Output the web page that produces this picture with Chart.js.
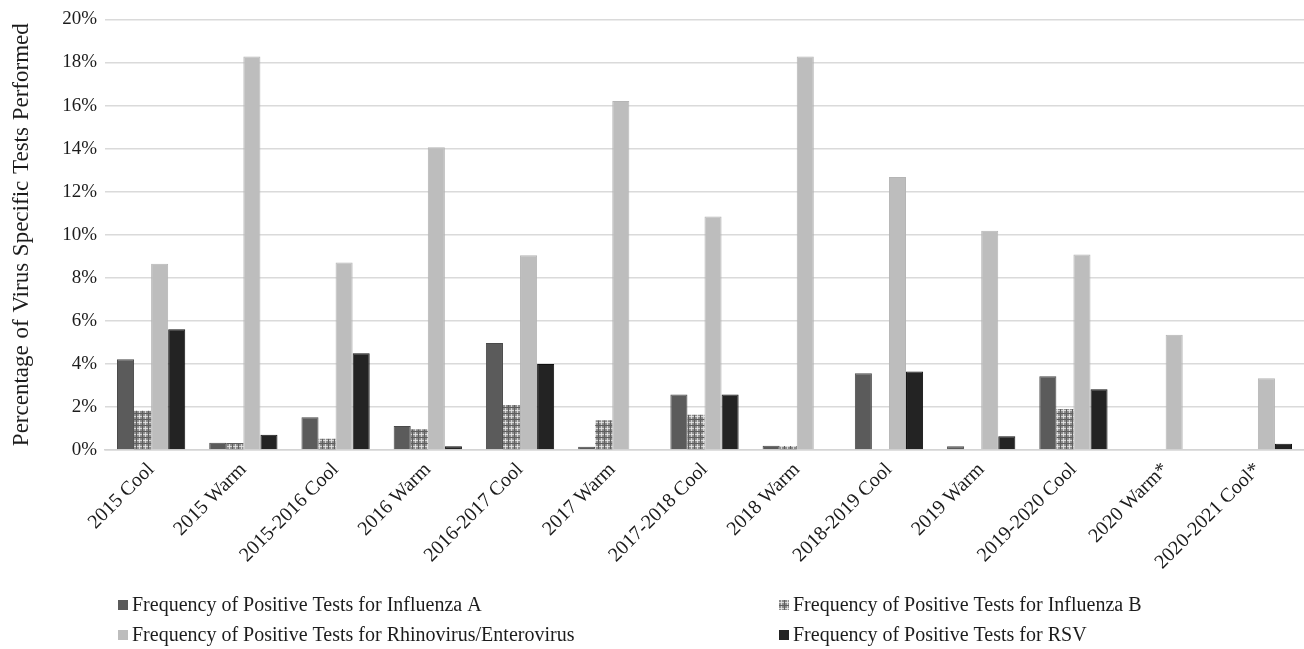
<!DOCTYPE html>
<html>
<head>
<meta charset="utf-8">
<script src="https://cdn.jsdelivr.net/npm/chart.js@4.4.1/dist/chart.umd.min.js"></script>
<style>
  html, body { margin: 0; padding: 0; background: #ffffff; }
  #wrap { width: 1304px; height: 649px; position: relative; }
</style>
</head>
<body>
<div id="wrap"><canvas id="chart" width="1304" height="649"></canvas></div>
<script>
// Seasons (categories) and the share of positive tests per virus, in percent
const seasons = ['2015 Cool', '2015 Warm', '2015-2016 Cool', '2016 Warm', '2016-2017 Cool', '2017 Warm',
  '2017-2018 Cool', '2018 Warm', '2018-2019 Cool', '2019 Warm', '2019-2020 Cool', '2020 Warm*', '2020-2021 Cool*'];
const influenzaA  = [4.22, 0.34, 1.52, 1.11, 4.97, 0.15, 2.58, 0.20, 3.56, 0.17, 3.43, 0, 0];
const influenzaB  = [1.82, 0.33, 0.52, 0.96, 2.09, 1.38, 1.64, 0.18, 0, 0, 1.90, 0, 0];
const rhinoEntero = [8.65, 18.28, 8.71, 14.06, 9.05, 16.21, 10.84, 18.28, 12.68, 10.18, 9.08, 5.35, 3.33];
const rsv         = [5.61, 0.71, 4.49, 0.17, 3.99, 0, 2.58, 0, 3.65, 0.64, 2.82, 0, 0.29];
const yTickValues = [0, 2, 4, 6, 8, 10, 12, 14, 16, 18, 20];
const seriesNames = [
  'Frequency of Positive Tests for Influenza A',
  'Frequency of Positive Tests for Influenza B',
  'Frequency of Positive Tests for Rhinovirus/Enterovirus',
  'Frequency of Positive Tests for RSV'
];
const yTitle = 'Percentage of Virus Specific Tests Performed';

const SERIF = '"Liberation Serif", "Times New Roman", serif';
const TEXT = '#1c1c1c';

// Plaid fill used for the Influenza B bars
function plaidPattern() {
  const t = document.createElement('canvas');
  t.width = 6; t.height = 6;
  const g = t.getContext('2d');
  g.fillStyle = '#8e8e8e';
  g.fillRect(0, 0, 6, 6);
  g.fillStyle = '#d6d6d6';
  g.fillRect(1, 0, 1, 6);
  g.fillRect(0, 2, 6, 1);
  g.fillStyle = '#5e5e5e';
  g.fillRect(4, 0, 1, 6);
  g.fillRect(0, 5, 6, 1);
  g.fillStyle = '#e6e6e6';
  g.fillRect(1, 2, 1, 1);
  return document.getElementById('chart').getContext('2d').createPattern(t, 'repeat');
}
const plaid = plaidPattern();

// Two-column legend under the category labels
const twoColumnLegend = {
  id: 'twoColumnLegend',
  afterDraw(chart) {
    const ctx = chart.ctx;
    const cols = [118, 779];
    const rows = [605, 635];
    ctx.save();
    ctx.font = '20px ' + SERIF;
    ctx.textBaseline = 'middle';
    ctx.textAlign = 'left';
    chart.data.datasets.forEach((ds, i) => {
      const x = cols[i % 2];
      const y = rows[Math.floor(i / 2)];
      ctx.fillStyle = ds.backgroundColor;
      ctx.fillRect(x, y - 5, 10, 10);
      ctx.fillStyle = TEXT;
      ctx.fillText(ds.label, x + 14, y + 1);
    });
    ctx.restore();
  }
};

// Vertical axis title, centred on the plot height
const verticalTitle = {
  id: 'verticalTitle',
  afterDraw(chart) {
    const ctx = chart.ctx;
    const a = chart.chartArea;
    ctx.save();
    ctx.translate(22, (a.top + a.bottom) / 2);
    ctx.rotate(-Math.PI / 2);
    ctx.font = '23px ' + SERIF;
    if ('wordSpacing' in ctx) ctx.wordSpacing = '1px';
    ctx.fillStyle = TEXT;
    ctx.textAlign = 'center';
    ctx.textBaseline = 'middle';
    ctx.fillText(yTitle, 0, 0);
    ctx.restore();
  }
};

const barBase = { borderWidth: 1, borderSkipped: 'bottom' };

new Chart(document.getElementById('chart'), {
  type: 'bar',
  data: {
    labels: seasons,
    datasets: [
      { ...barBase, label: seriesNames[0], data: influenzaA, backgroundColor: '#5b5b5b', borderColor: '#4a4a4a' },
      { ...barBase, label: seriesNames[1], data: influenzaB, backgroundColor: plaid, borderColor: '#8a8a8a', borderWidth: 0 },
      { ...barBase, label: seriesNames[2], data: rhinoEntero, backgroundColor: '#bdbdbd', borderColor: '#b5b5b5' },
      { ...barBase, label: seriesNames[3], data: rsv, backgroundColor: '#232323', borderColor: '#111111' }
    ]
  },
  options: {
    responsive: false,
    animation: false,
    devicePixelRatio: 1,
    layout: { padding: { top: 19, right: 0, left: 0, bottom: 0 } },
    datasets: { bar: { categoryPercentage: 0.74, barPercentage: 1.0 } },
    plugins: {
      legend: { display: false },
      tooltip: { enabled: false },
      title: { display: false }
    },
    scales: {
      x: {
        grid: { display: false, drawTicks: false },
        border: { display: true, color: '#d4d4d4', width: 1.5 },
        ticks: {
          autoSkip: false,
          maxRotation: 45,
          minRotation: 45,
          padding: 8,
          color: TEXT,
          font: { family: SERIF, size: 20 }
        },
        afterFit(scale) { scale.height = 199; }
      },
      y: {
        min: 0,
        max: 20,
        afterBuildTicks(scale) { scale.ticks = yTickValues.map(v => ({ value: v })); },
        grid: { color: '#dadada', lineWidth: 1.5, drawTicks: false },
        border: { display: false },
        ticks: {
          padding: 8,
          color: TEXT,
          font: { family: SERIF, size: 19 },
          callback: v => v + '%'
        },
        afterFit(scale) { scale.width = 105; }
      }
    }
  },
  plugins: [twoColumnLegend, verticalTitle]
});
</script>
</body>
</html>
